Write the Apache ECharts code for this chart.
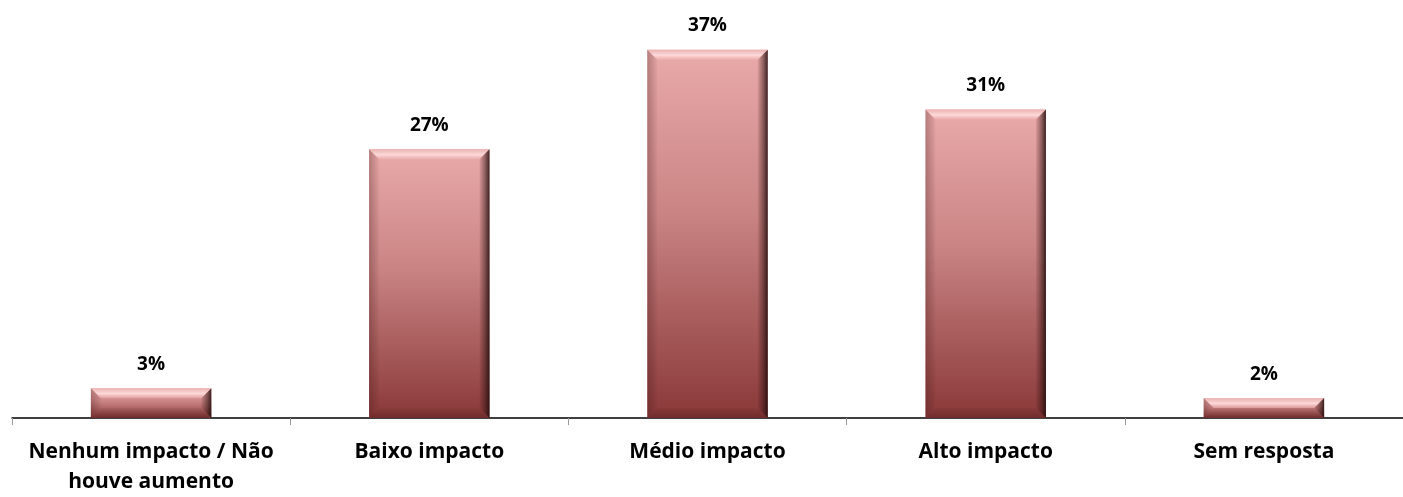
<!DOCTYPE html>
<html>
<head>
<meta charset="utf-8">
<script src="https://cdn.jsdelivr.net/npm/echarts@6/dist/echarts.min.js"></script>
<style>
html,body{margin:0;padding:0;background:#fff;}
#chart{width:1403px;height:497px;}
</style>
</head>
<body>
<div id="chart"></div>
<script>
const categories = ['Nenhum impacto / Não\nhouve aumento', 'Baixo impacto', 'Médio impacto', 'Alto impacto', 'Sem resposta'];
const values = [3, 27, 37, 31, 2];
const valueLabels = ['3%', '27%', '37%', '31%', '2%'];

const chart = echarts.init(document.getElementById('chart'));
const FONT = '"Open Sans", sans-serif';

function renderItem(params, api) {
  const idx = api.value(0);
  const val = api.value(1);
  const top = api.coord([idx, val]);
  const base = api.coord([idx, 0]);
  const w = api.size([1, 0])[0] * 0.433;
  const x = top[0] - w / 2;
  const y = top[1];
  const h = base[1] - top[1];
  const b = Math.min(10, h / 2);
  return {
    type: 'group',
    children: [
      { type: 'rect', shape: { x: x, y: y, width: w, height: h },
        style: { fill: new echarts.graphic.LinearGradient(0, 0, 0, 1, [
          { offset: 0, color: '#eaaaaa' },
          { offset: 0.45, color: '#c98383' },
          { offset: 1, color: '#8a3838' }
        ]) } },
      { type: 'polygon', shape: { points: [[x, y], [x + w, y], [x + w - b, y + b], [x + b, y + b]] },
        style: { fill: new echarts.graphic.LinearGradient(0, 0, 0, 1, [
          { offset: 0, color: 'rgba(235,180,180,0.9)' },
          { offset: 0.55, color: 'rgba(255,220,220,0.95)' },
          { offset: 1, color: 'rgba(240,180,180,0.5)' }
        ]) } },
      { type: 'polygon', shape: { points: [[x, y], [x + b, y + b], [x + b, y + h - b], [x, y + h]] },
        style: { fill: new echarts.graphic.LinearGradient(0, 0, 1, 0, [
          { offset: 0, color: 'rgba(60,20,20,0.3)' },
          { offset: 1, color: 'rgba(60,20,20,0.03)' }
        ]) } },
      { type: 'polygon', shape: { points: [[x + w, y], [x + w, y + h], [x + w - b, y + h - b], [x + w - b, y + b]] },
        style: { fill: new echarts.graphic.LinearGradient(0, 0, 1, 0, [
          { offset: 0, color: 'rgba(60,20,20,0.08)' },
          { offset: 0.6, color: 'rgba(40,15,15,0.5)' },
          { offset: 1, color: 'rgba(30,10,10,0.85)' }
        ]) } },
      { type: 'polygon', shape: { points: [[x, y + h], [x + b, y + h - b], [x + w - b, y + h - b], [x + w, y + h]] },
        style: { fill: new echarts.graphic.LinearGradient(0, 0, 0, 1, [
          { offset: 0, color: 'rgba(50,15,15,0.05)' },
          { offset: 1, color: 'rgba(50,15,15,0.3)' }
        ]) } },
      { type: 'text', x: top[0], y: y - 24,
        style: { text: valueLabels[idx], fill: '#000', font: 'bold 19px ' + FONT,
                 textAlign: 'center', textVerticalAlign: 'middle' } }
    ]
  };
}

chart.setOption({
  animation: false,
  backgroundColor: '#fff',
  grid: { left: 12, right: -7, top: 20, bottom: 73 },
  xAxis: {
    type: 'category',
    data: categories,
    axisLine: { lineStyle: { color: '#000', width: 1.5 } },
    axisTick: { show: true, length: 7, lineStyle: { color: '#999' } },
    axisLabel: { color: '#000', fontFamily: FONT, fontWeight: 'bold', fontSize: 21,
                 lineHeight: 30, margin: 19, interval: 0 }
  },
  yAxis: {
    type: 'value', min: 0, max: 40, show: false, splitLine: { show: false }
  },
  series: [{
    type: 'custom',
    renderItem: renderItem,
    data: values.map((v, i) => [i, v]),
    encode: { x: 0, y: 1 }
  }]
});
</script>
</body>
</html>
